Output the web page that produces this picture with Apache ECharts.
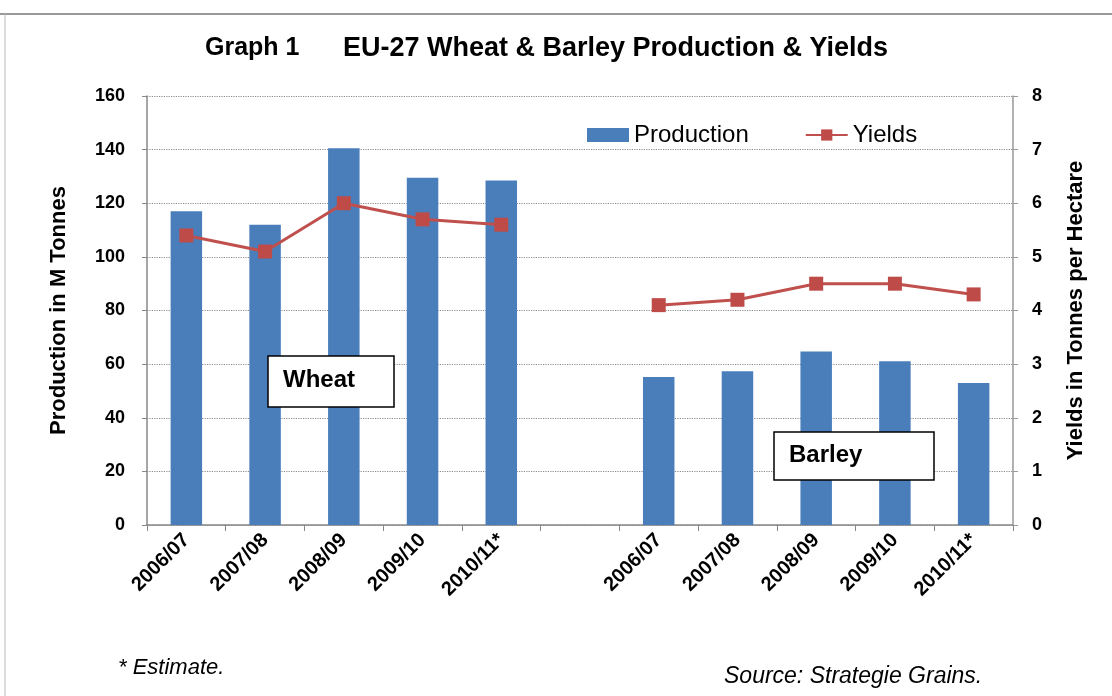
<!DOCTYPE html>
<html><head><meta charset="utf-8">
<script src="https://cdn.jsdelivr.net/npm/echarts@6/dist/echarts.min.js"></script>
<style>html,body{margin:0;padding:0;background:#fff}#c{width:1112px;height:696px}</style>
</head><body><div id="c"></div>
<script>
const categories = ['2006/07','2007/08','2008/09','2009/10','2010/11*','','2006/07','2007/08','2008/09','2009/10','2010/11*'];
const production = [117, 112, 140.5, 129.5, 128.5, null, 55.2, 57.3, 64.7, 61.1, 53];
const yields = [5.4, 5.1, 6.0, 5.7, 5.6, null, 4.1, 4.2, 4.5, 4.5, 4.3];
const leftTicks = {min: 0, max: 160, interval: 20};
const rightTicks = {min: 0, max: 8, interval: 1};

const FF = '"Liberation Sans", Arial, sans-serif';
const chart = echarts.init(document.getElementById('c'));
chart.setOption({
  backgroundColor: '#fff',
  animation: false,
  legend: {
    data: [{name: 'Production', icon: 'rect'}, {name: 'Yields'}],
    left: 582, top: 118, itemWidth: 42, itemHeight: 14, itemGap: 56,
    textStyle: {fontFamily: FF, fontSize: 24, color: '#000'}
  },
  grid: {left: 147, right: 99, top: 96, bottom: 171},
  xAxis: {
    type: 'category', data: categories,
    axisLine: {lineStyle: {color: '#888', width: 1.5}},
    axisTick: {show: true, length: 6, lineStyle: {color: '#888'}, interval: 0},
    axisLabel: {interval: 0, rotate: 45, margin: 12, fontFamily: FF, fontWeight: 'bold', fontSize: 20, color: '#000'}
  },
  yAxis: [
    {
      type: 'value', min: leftTicks.min, max: leftTicks.max, interval: leftTicks.interval,
      name: 'Production in M Tonnes', nameLocation: 'middle', nameRotate: 90, nameGap: 77,
      nameTextStyle: {fontFamily: FF, fontWeight: 'bold', fontSize: 22, color: '#000'},
      axisLine: {show: true, lineStyle: {color: '#888', width: 1.5}},
      axisTick: {show: true, length: 5, lineStyle: {color: '#888'}},
      axisLabel: {fontFamily: FF, fontWeight: 'bold', fontSize: 18, color: '#000', margin: 22},
      splitLine: {show: true, lineStyle: {color: '#8a8a8a', type: 'dotted', width: 1.2}}
    },
    {
      type: 'value', min: rightTicks.min, max: rightTicks.max, interval: rightTicks.interval, position: 'right',
      name: 'Yields in Tonnes per Hectare', nameLocation: 'middle', nameRotate: 90, nameGap: 52,
      nameTextStyle: {fontFamily: FF, fontWeight: 'bold', fontSize: 22, color: '#000'},
      axisLine: {show: true, lineStyle: {color: '#999', width: 1.5}},
      axisTick: {show: true, length: 5, lineStyle: {color: '#999'}},
      axisLabel: {fontFamily: FF, fontWeight: 'bold', fontSize: 18, color: '#000', margin: 19},
      splitLine: {show: false}
    }
  ],
  series: [
    {
      name: 'Production', type: 'bar', data: production, barWidth: '40%',
      itemStyle: {color: '#4A7EBB'}
    },
    {
      name: 'Yields', type: 'line', yAxisIndex: 1, data: yields, connectNulls: false,
      symbol: 'rect', symbolSize: 14,
      lineStyle: {color: '#C0504D', width: 3},
      itemStyle: {color: '#BE4B48'}
    }
  ],
  graphic: [
    {type: 'line', shape: {x1: 0, y1: 14, x2: 1112, y2: 14}, style: {stroke: '#999', lineWidth: 2}},
    {type: 'line', shape: {x1: 5, y1: 14, x2: 5, y2: 696}, style: {stroke: '#bbb', lineWidth: 1}},
    {type: 'text', left: 205, top: 36, style: {text: 'Graph 1', fontFamily: FF, fontWeight: 'bold', fontSize: 25, fill: '#000'}},
    {type: 'text', left: 343, top: 35, style: {text: 'EU-27 Wheat & Barley Production & Yields', fontFamily: FF, fontWeight: 'bold', fontSize: 27, fill: '#000'}},
    {type: 'rect', shape: {x: 268, y: 356, width: 126, height: 51}, style: {fill: '#fff', stroke: '#000', lineWidth: 1.5}, z: 100},
    {type: 'text', left: 283, top: 368, style: {text: 'Wheat', fontFamily: FF, fontWeight: 'bold', fontSize: 24, fill: '#000'}, z: 101},
    {type: 'rect', shape: {x: 774, y: 432, width: 160, height: 48}, style: {fill: '#fff', stroke: '#000', lineWidth: 1.5}, z: 100},
    {type: 'text', left: 789, top: 443, style: {text: 'Barley', fontFamily: FF, fontWeight: 'bold', fontSize: 24, fill: '#000'}, z: 101},
    {type: 'text', left: 118, top: 657, style: {text: '* Estimate.', fontFamily: FF, fontStyle: 'italic', fontSize: 22, fill: '#000'}},
    {type: 'text', left: 724, top: 665, style: {text: 'Source: Strategie Grains.', fontFamily: FF, fontStyle: 'italic', fontSize: 23, fill: '#000'}}
  ]
});
</script></body></html>
